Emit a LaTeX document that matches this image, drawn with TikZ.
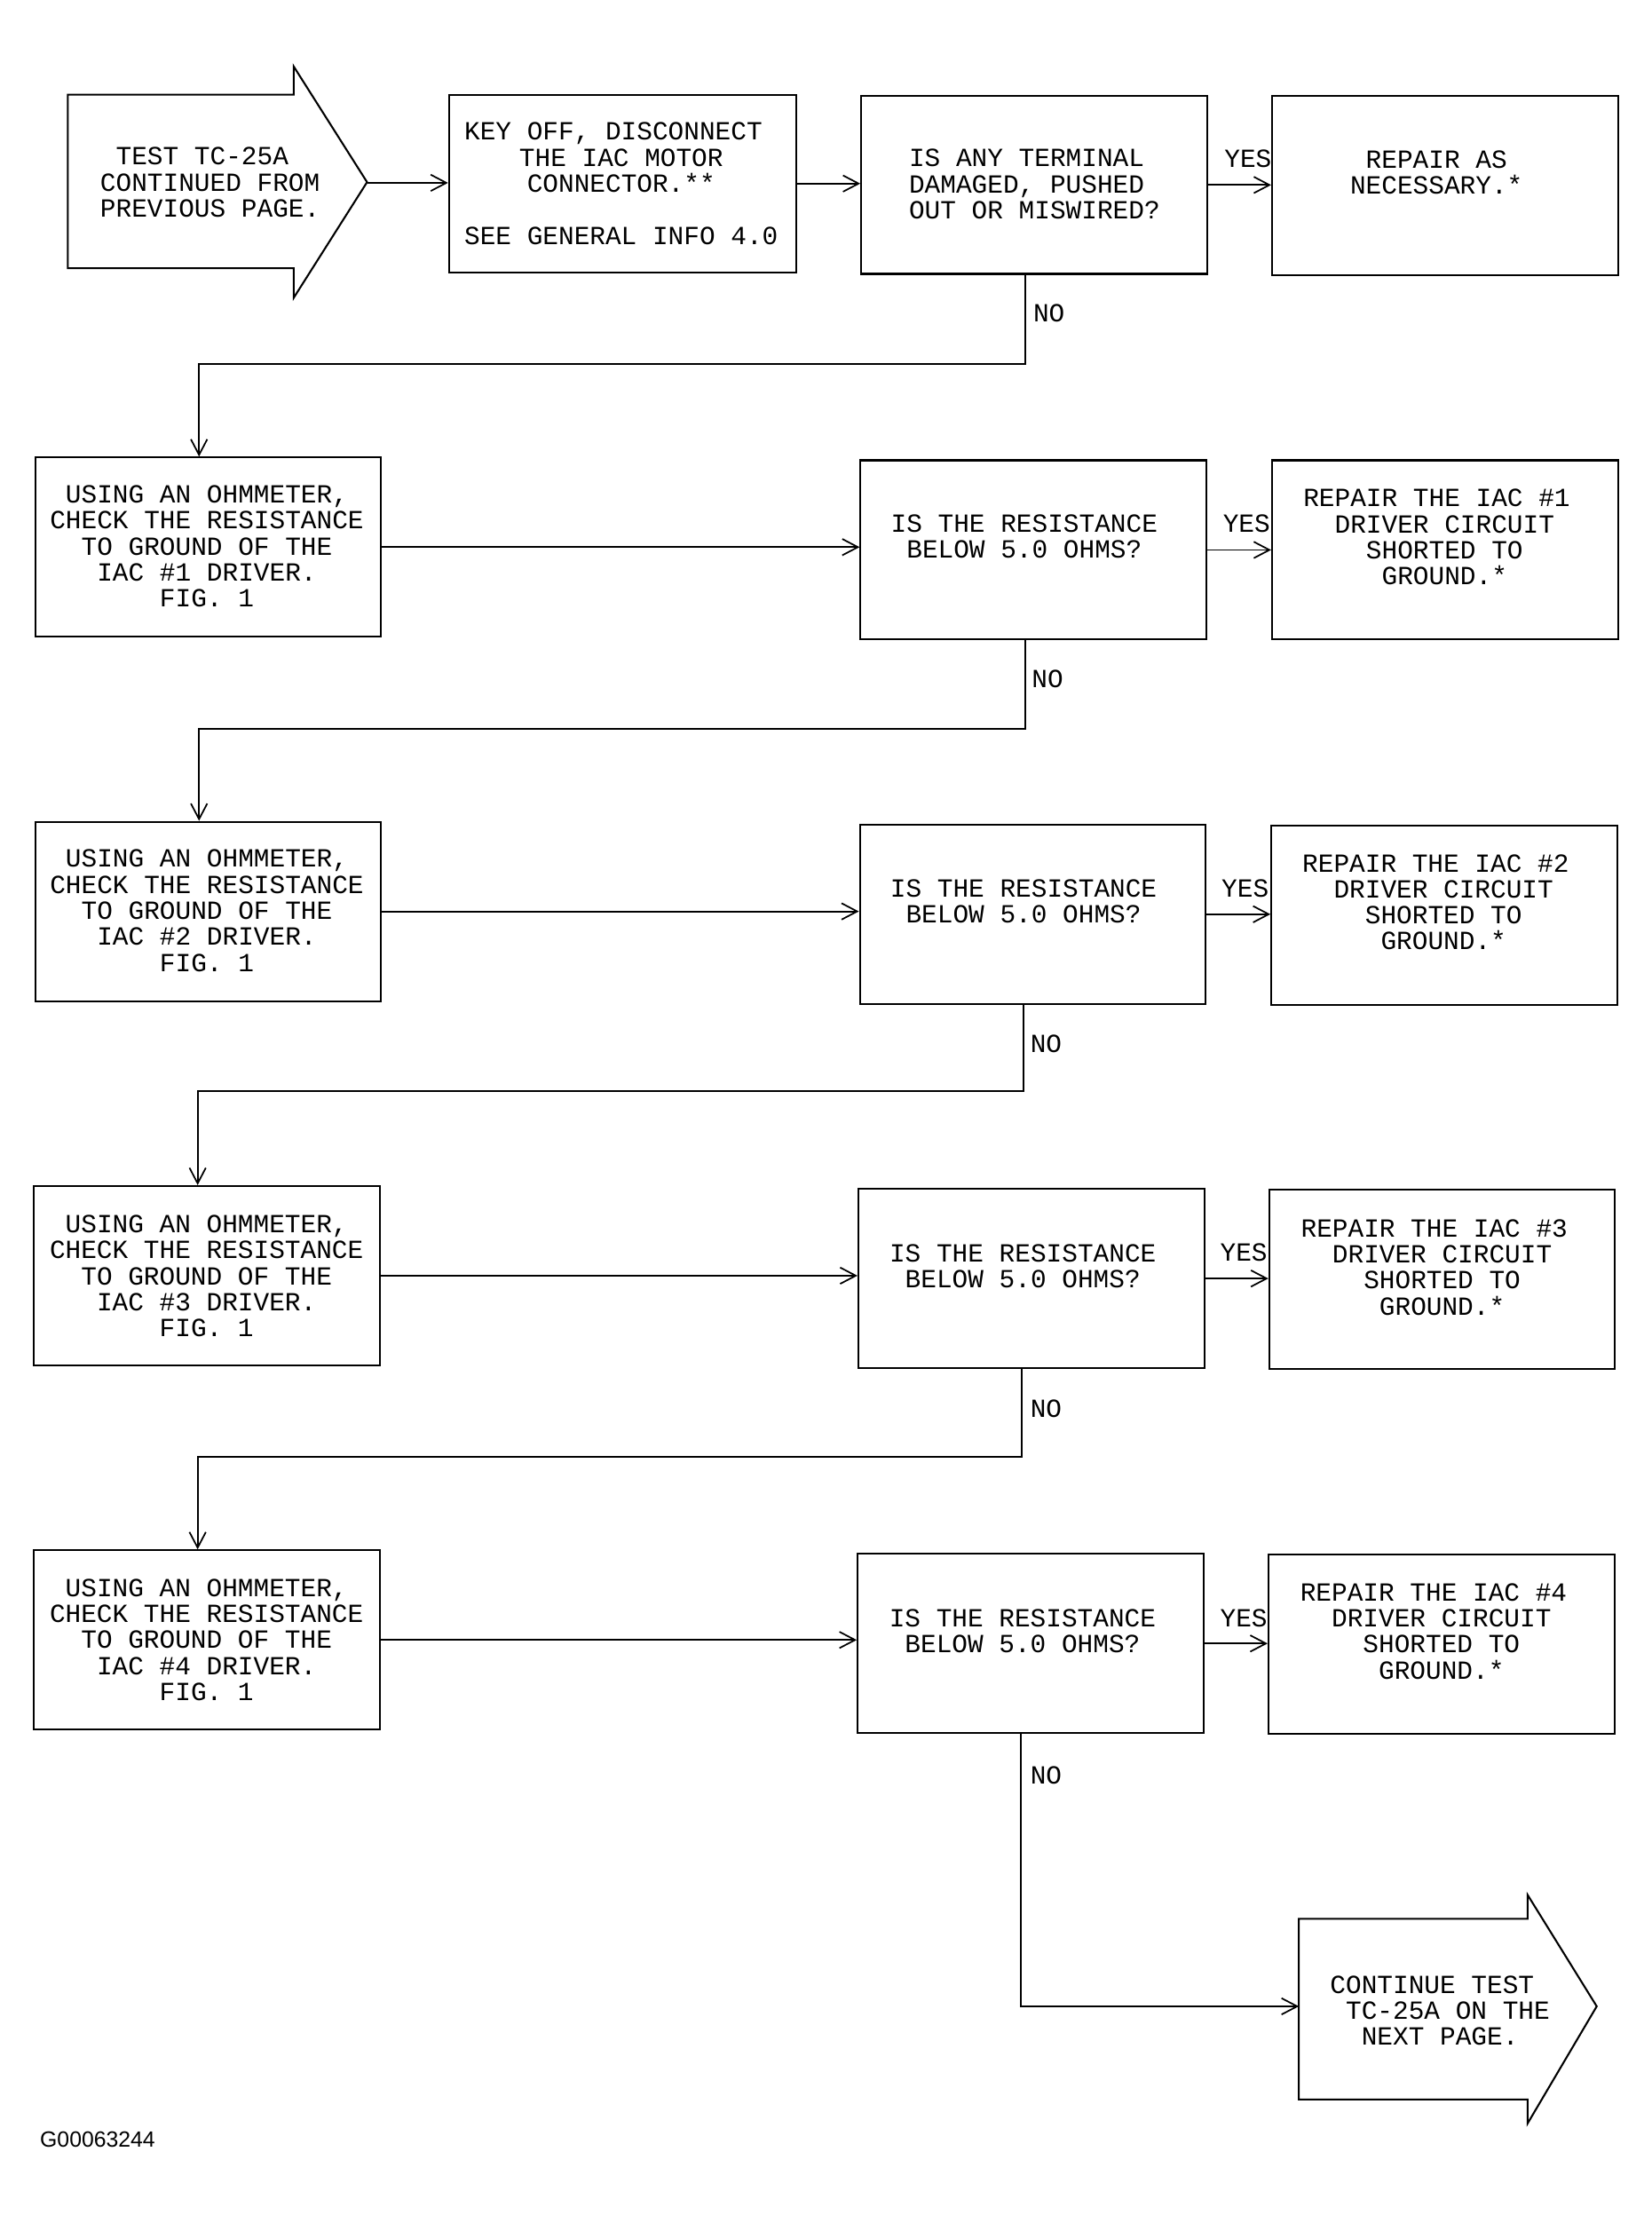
\documentclass[tikz,border=0pt]{standalone}
\usepackage{fontspec}
\setmonofont{Liberation Mono}
\newfontfamily\gfont{Liberation Sans}
\usetikzlibrary{arrows.meta}
\begin{document}
\begin{tikzpicture}[x=0.994pt,y=-0.994pt,
  box/.style={draw, line width=1.3pt, inner sep=0pt, minimum width=243.5pt, minimum height=126.2pt},
  txt/.style={font=\ttfamily\fontsize{18.4}{18.3}\selectfont, align=center, inner sep=0pt},
  lbl/.style={font=\ttfamily\fontsize{18.4}{18.3}\selectfont, inner sep=0pt},
  arr/.style={line width=1.2pt, -{Straight Barb[length=11pt,width=11.5pt,line width=1.1pt]}},
  shp/.style={draw, line width=1.3pt, line join=miter}]
\useasboundingbox (0,0) rectangle (1170.1,1568.8);

% start arrow
\draw[shp] (48,67) -- (208,67) -- (208,47) -- (260,129) -- (208,211) -- (208,190) -- (48,190) -- cycle;
\coordinate (Stip) at (260,129.5);
\node[txt] (tS) at (148.8,129.2) {TEST TC-25A\hphantom{X}\\CONTINUED FROM\\PREVIOUS PAGE.};

% row 1
\node[box, minimum width=244.5pt, minimum height=125.2pt] (B1) at (441,130) {};
\node[txt] (tB1) at (440,130) {KEY OFF, DISCONNECT\hphantom{X}\\THE IAC MOTOR\\CONNECTOR.**\\\mbox{}\\SEE GENERAL INFO 4.0};
\node[box, minimum height=125.2pt] (D1) at (732.5,131) {};
\node[txt, align=left, anchor=west] (tD1) at (643.7,130.5) {IS ANY TERMINAL\\DAMAGED, PUSHED\\OUT OR MISWIRED?};
\node[box] (R1) at (1023.5,131.5) {};
\node[txt] (tR1) at (1017.5,122) {REPAIR AS\\NECESSARY.*};

% row 2
\node[box] (L2) at (147.5,387.5) {};
\node[txt] (tL2) at (146.5,387) {USING AN OHMMETER,\\CHECK THE RESISTANCE\\TO GROUND OF THE\\IAC \#1 DRIVER.\\FIG. 1};
\node[box] (D2) at (732,389.5) {};
\node[txt] (tD2) at (725.5,380) {IS THE RESISTANCE\\BELOW 5.0 OHMS?};
\node[box] (R2) at (1023.5,389.5) {};
\node[txt] (tR2) at (1023.2,380.5) {REPAIR THE IAC \#1\hphantom{X}\\DRIVER CIRCUIT\\SHORTED TO\\GROUND.*};

% row 3
\node[box] (L3) at (147.5,645.5) {};
\node[txt] (tL3) at (146.5,645) {USING AN OHMMETER,\\CHECK THE RESISTANCE\\TO GROUND OF THE\\IAC \#2 DRIVER.\\FIG. 1};
\node[box] (D3) at (731.5,647.5) {};
\node[txt] (tD3) at (725,638.5) {IS THE RESISTANCE\\BELOW 5.0 OHMS?};
\node[box] (R3) at (1023,648) {};
\node[txt] (tR3) at (1022.5,639) {REPAIR THE IAC \#2\hphantom{X}\\DRIVER CIRCUIT\\SHORTED TO\\GROUND.*};

% row 4
\node[box] (L4) at (146.5,903.5) {};
\node[txt] (tL4) at (146.3,903.8) {USING AN OHMMETER,\\CHECK THE RESISTANCE\\TO GROUND OF THE\\IAC \#3 DRIVER.\\FIG. 1};
\node[box] (D4) at (730.5,905.5) {};
\node[txt] (tD4) at (724.5,897) {IS THE RESISTANCE\\BELOW 5.0 OHMS?};
\node[box] (R4) at (1021.5,906) {};
\node[txt] (tR4) at (1021.5,897.5) {REPAIR THE IAC \#3\hphantom{X}\\DRIVER CIRCUIT\\SHORTED TO\\GROUND.*};

% row 5
\node[box] (L5) at (146.5,1161.5) {};
\node[txt] (tL5) at (146.3,1161.5) {USING AN OHMMETER,\\CHECK THE RESISTANCE\\TO GROUND OF THE\\IAC \#4 DRIVER.\\FIG. 1};
\node[box] (D5) at (730,1164) {};
\node[txt] (tD5) at (724.3,1155.2) {IS THE RESISTANCE\\BELOW 5.0 OHMS?};
\node[box] (R5) at (1021,1164.5) {};
\node[txt] (tR5) at (1021,1155.3) {REPAIR THE IAC \#4\hphantom{X}\\DRIVER CIRCUIT\\SHORTED TO\\GROUND.*};

% end arrow
\draw[shp] (920,1359) -- (1082,1359) -- (1082,1342) -- (1131,1421) -- (1082,1504) -- (1082,1487) -- (920,1487) -- cycle;
\coordinate (Etail) at (920,1421);
\node[txt, align=left, anchor=west] (tE) at (942,1424) {CONTINUE TEST\\\hphantom{X}TC-25A ON THE\\\hphantom{XX}NEXT PAGE.};

% horizontal connectors
\draw[arr] (Stip) -- (Stip -| B1.west);
\draw[arr] (B1.east) -- (B1.east -| D1.west);
\draw[arr] (D1.east) -- (D1.east -| R1.west);
\draw[arr] (L2.east) -- (L2.east -| D2.west);
\draw[arr] (D2.east) -- (D2.east -| R2.west);
\draw[arr] (L3.east) -- (L3.east -| D3.west);
\draw[arr] (D3.east) -- (D3.east -| R3.west);
\draw[arr] (L4.east) -- (L4.east -| D4.west);
\draw[arr] (D4.east) -- (D4.east -| R4.west);
\draw[arr] (L5.east) -- (L5.east -| D5.west);
\draw[arr] (D5.east) -- (D5.east -| R5.west);

% NO connectors
\coordinate (n1) at (726,258); \coordinate (k1) at (141,258);
\coordinate (n2) at (726,516); \coordinate (k2) at (141,516);
\coordinate (n3) at (725,773); \coordinate (k3) at (140,773);
\coordinate (n4) at (724,1032); \coordinate (k4) at (140,1032);
\coordinate (n5) at (723,1421);
\draw[arr] (D1.south -| n1) -- (n1) -- (k1) -- (L2.north -| k1);
\draw[arr] (D2.south -| n2) -- (n2) -- (k2) -- (L3.north -| k2);
\draw[arr] (D3.south -| n3) -- (n3) -- (k3) -- (L4.north -| k3);
\draw[arr] (D4.south -| n4) -- (n4) -- (k4) -- (L5.north -| k4);
\draw[arr] (D5.south -| n5) -- (n5) -- (Etail);

% labels
\node[lbl] (y1) at (884,112.6) {YES};
\node[lbl] (y2) at (883,371) {YES};
\node[lbl] (y3) at (882,629) {YES};
\node[lbl] (y4) at (881,887) {YES};
\node[lbl] (y5) at (881,1146) {YES};
\node[lbl] (o1) at (743,222) {NO};
\node[lbl] (o2) at (742,481) {NO};
\node[lbl] (o3) at (741,739) {NO};
\node[lbl] (o4) at (741,998) {NO};
\node[lbl] (o5) at (741,1257.5) {NO};

\node[anchor=west, inner sep=0pt, font=\gfont\fontsize{15.5}{18}\selectfont] (gid) at (28.2,1515) {G00063244};
\end{tikzpicture}
\end{document}
